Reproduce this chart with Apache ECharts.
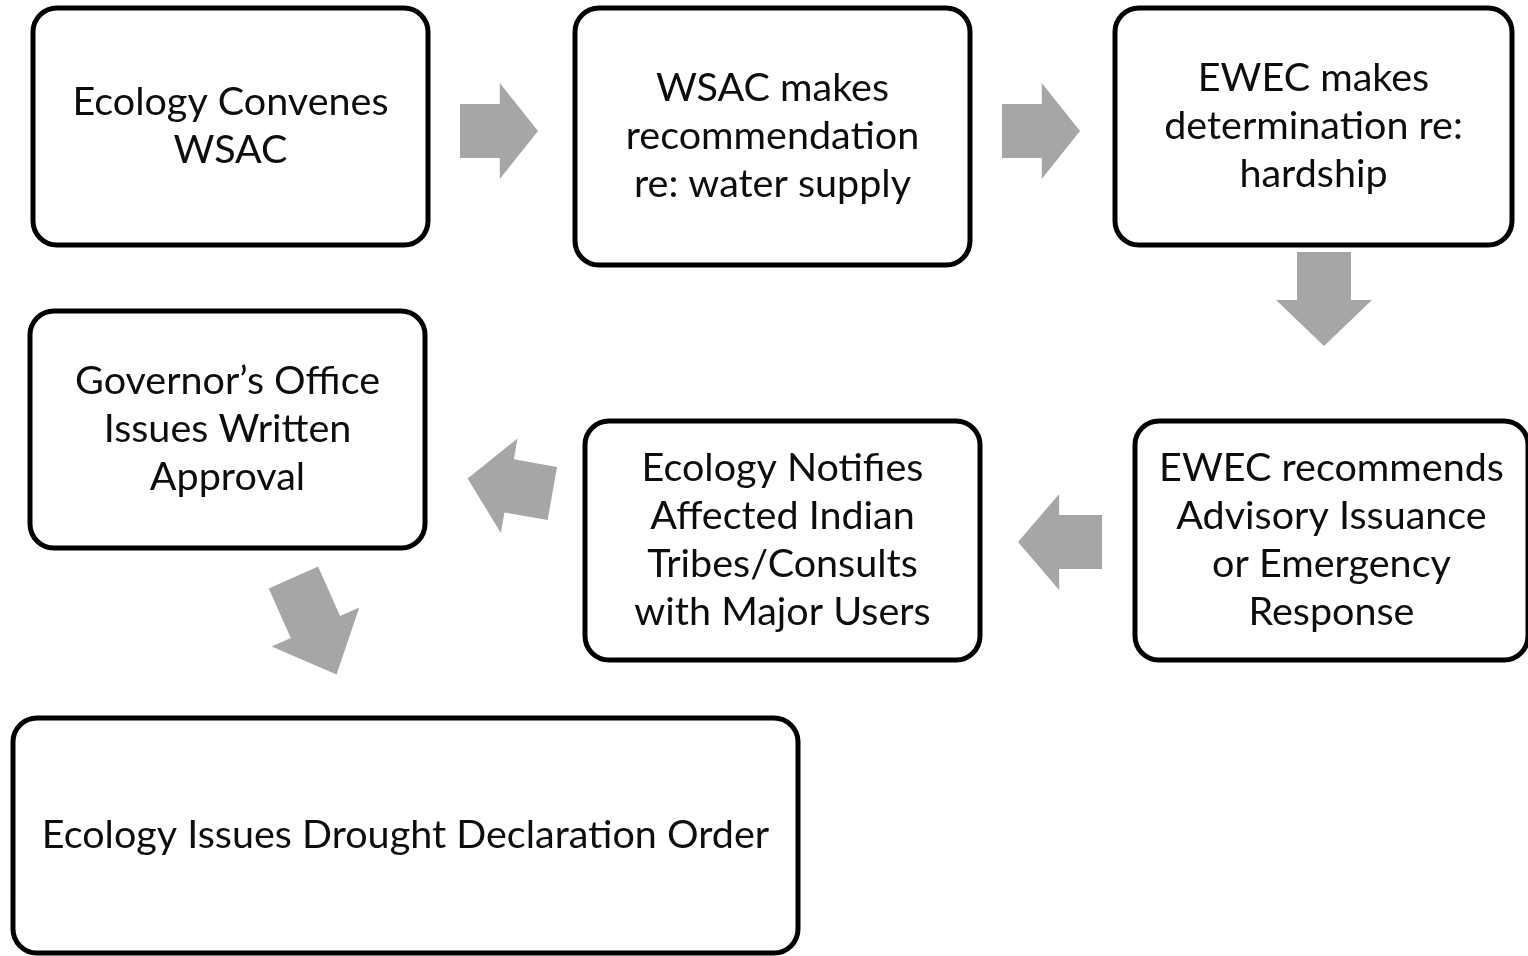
<!DOCTYPE html>
<html>
<head>
<meta charset="utf-8">
<script src="https://cdn.jsdelivr.net/npm/echarts@6/dist/echarts.min.js"></script>
<style>
	html, body { margin: 0; padding: 0; background: #fff; }
	#chart { width: 1528px; height: 956px; }
</style>
</head>
<body>
<div id="chart"></div>
<script>
// step texts, in flow order
var stepLabels = [
	'Ecology Convenes\nWSAC',
	'WSAC makes\nrecommendation\nre: water supply',
	'EWEC makes\ndetermination re:\nhardship',
	'EWEC recommends\nAdvisory Issuance\nor Emergency\nResponse',
	'Ecology Notifies\nAffected Indian\nTribes/Consults\nwith Major Users',
	'Governor\u2019s Office\nIssues Written\nApproval',
	'Ecology Issues Drought Declaration Order'
];
// box extents on the page grid: [left, top, right, bottom]
var stepBoxes = [
	[33, 8, 428, 245],
	[575, 8, 970, 265],
	[1115, 8, 1512, 245],
	[1135, 421, 1528, 660],
	[585, 421, 980, 660],
	[30, 311, 425, 548],
	[13, 718, 798, 953]
];
// arrows between steps: [centerX, centerY, direction in degrees (0 = right, 90 = down), length]
var flowArrows = [
	[499, 131, 0, 78],
	[1041, 131, 0, 78],
	[1324, 299, 90, 94],
	[1060, 542, 180, 84],
	[510, 486, 190, 86],
	[315, 626, 66, 106]
];

var chart = echarts.init(document.getElementById('chart'));

function renderBox(params, api) {
	var p0 = api.coord([api.value(0), api.value(1)]);
	var p1 = api.coord([api.value(2), api.value(3)]);
	var label = stepLabels[params.dataIndex];
	return {
		type: 'group',
		children: [{
			type: 'rect',
			shape: { x: p0[0], y: p0[1], width: p1[0] - p0[0], height: p1[1] - p0[1], r: 24 },
			style: { fill: '#fff', stroke: '#000', lineWidth: 5 }
		}, {
			type: 'text',
			style: {
				text: label,
				x: (p0[0] + p1[0]) / 2,
				y: (p0[1] + p1[1]) / 2,
				align: 'center',
				verticalAlign: 'middle',
				font: '39.5px Lato',
				lineHeight: 48,
				fill: '#0d0d0d'
			}
		}]
	};
}

function renderArrow(params, api) {
	var c = api.coord([api.value(0), api.value(1)]);
	var angle = api.value(2) * Math.PI / 180;
	var len = api.value(3);
	var half = len / 2;
	var headLen = len * 0.49;
	var headHalf = 48;
	var shaftHalf = 27;
	// arrow pointing right, centered at origin
	var pts = [
		[-half, -shaftHalf],
		[half - headLen, -shaftHalf],
		[half - headLen, -headHalf],
		[half, 0],
		[half - headLen, headHalf],
		[half - headLen, shaftHalf],
		[-half, shaftHalf]
	];
	var cos = Math.cos(angle), sin = Math.sin(angle);
	var points = pts.map(function (p) {
		return [c[0] + p[0] * cos - p[1] * sin, c[1] + p[0] * sin + p[1] * cos];
	});
	return {
		type: 'polygon',
		shape: { points: points },
		style: { fill: '#a6a6a6' }
	};
}

chart.setOption({
	animation: false,
	backgroundColor: '#fff',
	grid: { left: 0, right: 0, top: 0, bottom: 0 },
	xAxis: { type: 'value', min: 0, max: 1528, show: false },
	yAxis: { type: 'value', min: 0, max: 956, inverse: true, show: false },
	series: [{
		type: 'custom',
		renderItem: renderArrow,
		data: flowArrows,
		silent: true
	}, {
		type: 'custom',
		renderItem: renderBox,
		data: stepBoxes,
		silent: true
	}]
});
</script>
</body>
</html>
